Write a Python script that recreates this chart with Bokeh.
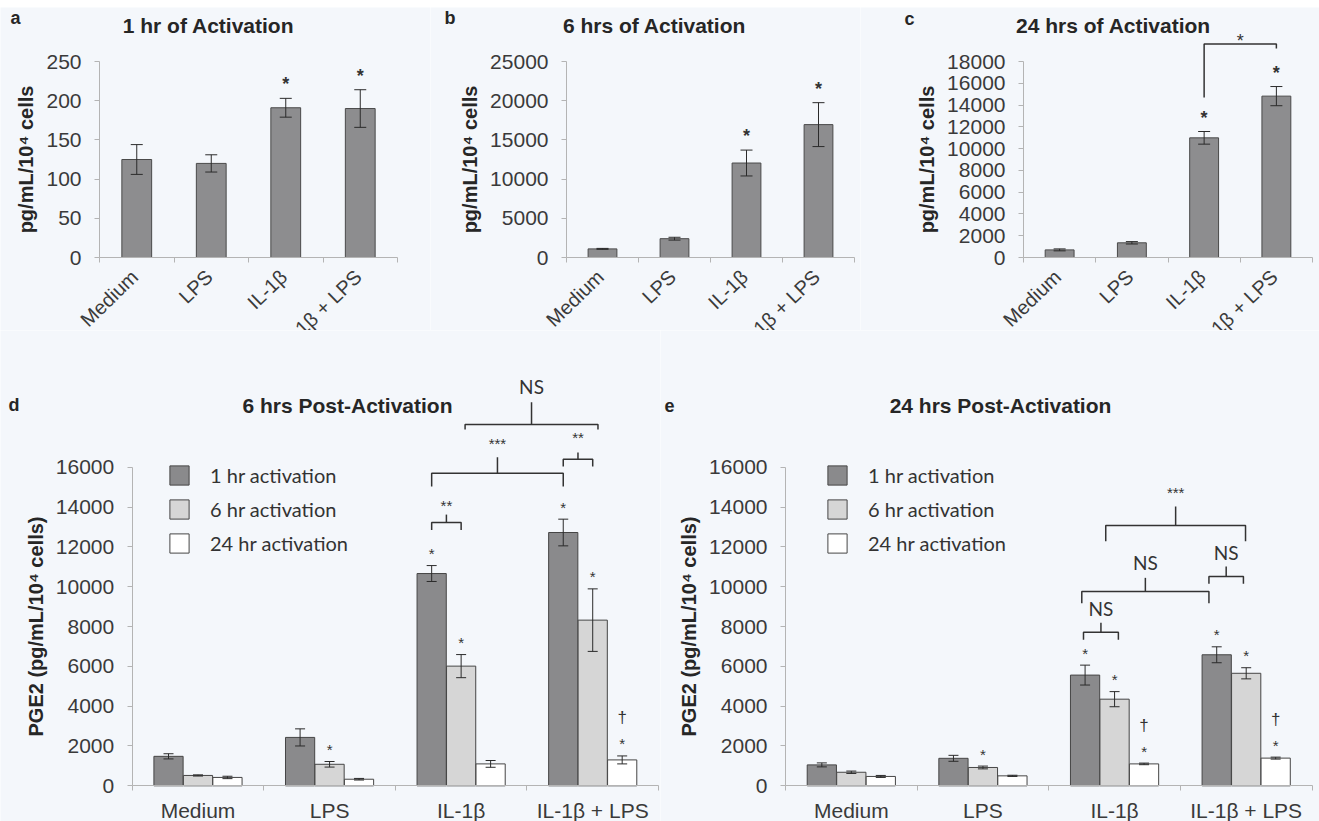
from math import pi

from bokeh.core.properties import value
from bokeh.embed import file_html
from bokeh.layouts import column, row
from bokeh.models import (ColumnDataSource, FixedTicker, Label, Legend, LegendItem,
                          Range1d, Spacer, TeeHead, Whisker)
from bokeh.plotting import figure
from bokeh.resources import INLINE

# ---------------------------------------------------------------- data
categories = ["Medium", "LPS", "IL-1β", "IL-1β + LPS"]

# panels a-c: PGE2 release during activation (pg/mL/10^4 cells)
act_1h_mean = [125, 120, 191, 190]
act_1h_err = [19, 11, 12, 24]
act_6h_mean = [1100, 2400, 12050, 16950]
act_6h_err = [60, 180, 1650, 2800]
act_24h_mean = [700, 1350, 10990, 14820]
act_24h_err = [90, 110, 580, 880]
act_sig = ["", "", "*", "*"]

# panels d-e: PGE2 after activation, by activation duration
series_names = ["1 hr activation", "6 hr activation", "24 hr activation"]
post6_mean = [[1480, 2430, 10660, 12720],
              [520, 1080, 6010, 8320],
              [420, 330, 1100, 1300]]
post6_err = [[130, 430, 400, 670],
             [30, 140, 580, 1570],
             [60, 40, 170, 200]]
post6_star = [["", "", "*", "*"],
              ["", "*", "*", "*"],
              ["", "", "", "*"]]
post6_dagger = [["", "", "", ""],
                ["", "", "", ""],
                ["", "", "", "†"]]

post24_mean = [[1050, 1380, 5560, 6580],
               [680, 920, 4350, 5650],
               [470, 500, 1100, 1390]]
post24_err = [[100, 150, 500, 400],
              [60, 70, 380, 280],
              [50, 30, 40, 50]]
post24_star = [["", "", "*", "*"],
               ["", "*", "*", "*"],
               ["", "", "*", "*"]]
post24_dagger = [["", "", "", ""],
                 ["", "", "", ""],
                 ["", "", "†", "†"]]

# significance brackets: (label, x0, x1, y, left leg end, right leg end, centre tick top, label y)
brackets_24h_act = [("*", 2.5, 3.5, 19600, 14690, 19190, None, 20270)]
brackets_post6 = [
    ("**", 2.276, 2.5, 13220, 12850, 12850, 13620, 14230),
    ("***", 2.276, 3.276, 15700, 15030, 15030, 16500, 17340),
    ("**", 3.276, 3.5, 16400, 16030, 16030, 16740, 17640),
    ("NS", 2.53, 3.54, 18140, 17890, 17890, 19260, 20050),
]
brackets_post24 = [
    ("NS", 2.264, 2.529, 7715, 7330, 7330, 8184, 8920),
    ("NS", 2.251, 3.217, 9757, 9171, 9171, 10443, 11200),
    ("NS", 3.217, 3.479, 10510, 10142, 10142, 11013, 11730),
    ("***", 2.433, 3.495, 13071, 12285, 12285, 14025, 14860),
]

# ---------------------------------------------------------------- style
BG = "#f4f7fb"
AXIS = "#b4b4b4"
TICK_TXT = "#3a3a3a"
INK = "#262626"
BAR_LINE = "#454545"
SERIES_FILL = ["#8a8a8c", "#d6d6d6", "#ffffff"]
SANS = "Liberation Sans"
CENTERS = [i + 0.5 for i in range(len(categories))]


def base_figure(width, height, frame_left, frame_right, ymax_val, y_zero, y_top, y_fig_top):
    """Figure whose plotting area fills the whole canvas; axes are pinned at zero.

    frame_left/right: canvas x of category 0 and 4;  y_zero/y_top: page y
    of 0 and of ymax_val;  y_fig_top: page y of this figure's top edge.
    """
    ppx = (frame_right - frame_left) / 4.0
    ppy = (y_zero - y_top) / float(ymax_val)
    x_range = Range1d(-frame_left / ppx, (width - frame_left) / ppx)
    y_range = Range1d(-(y_fig_top + height - y_zero) / ppy, (y_zero - y_fig_top) / ppy)
    p = figure(width=width, height=height, x_range=x_range, y_range=y_range,
               output_backend="svg", toolbar_location=None, min_border=0,
               min_border_left=0, min_border_right=0, min_border_top=0, min_border_bottom=0,
               background_fill_color=BG, border_fill_color=BG, outline_line_color=None)
    p.title.visible = False
    p.grid.visible = False
    p.xaxis.fixed_location = 0
    p.yaxis.fixed_location = 0
    return p


def style_axes(p, ymax, step, ylabel, ylabel_size, labelled_x):
    yax = p.yaxis[0]
    yax.ticker = FixedTicker(ticks=list(range(0, ymax + 1, step)))
    yax.bounds = (0, ymax)
    yax.axis_line_color = AXIS
    yax.major_tick_line_color = AXIS
    yax.major_tick_out = 5
    yax.major_tick_in = 0
    yax.minor_tick_line_color = None
    yax.major_label_text_font = SANS
    yax.major_label_text_font_size = "21px"
    yax.major_label_text_color = TICK_TXT
    yax.major_label_standoff = 13
    yax.axis_label = ylabel
    yax.axis_label_text_font = SANS
    yax.axis_label_text_font_style = "bold"
    yax.axis_label_text_font_size = ylabel_size
    yax.axis_label_text_color = INK
    yax.axis_label_standoff = 6

    xax = p.xaxis[0]
    xax.bounds = (0, 4)
    if labelled_x:
        xax.ticker = FixedTicker(ticks=CENTERS, minor_ticks=[0, 1, 2, 3, 4])
        xax.major_label_overrides = {c: n for c, n in zip(CENTERS, categories)}
    else:
        xax.ticker = FixedTicker(ticks=[], minor_ticks=[0, 1, 2, 3, 4])
    xax.axis_line_color = AXIS
    xax.major_tick_line_color = AXIS
    xax.major_tick_out = 0
    xax.major_tick_in = 0
    xax.minor_tick_line_color = AXIS
    xax.minor_tick_out = 5
    xax.minor_tick_in = 0
    xax.major_label_text_font = SANS
    xax.major_label_text_font_size = "21px"
    xax.major_label_text_color = TICK_TXT


def add_heading(p, letter, lx, ly, title, tx, ty, size):
    p.add_layout(Label(x=lx, y=ly, x_units="canvas", y_units="canvas", text=letter,
                       text_font=SANS, text_font_style="bold", text_font_size="18px",
                       text_color=INK, text_align="left", text_baseline="middle"))
    p.add_layout(Label(x=tx, y=ty, x_units="canvas", y_units="canvas", text=title,
                       text_font=SANS, text_font_style="bold", text_font_size=size,
                       text_color=INK, text_align="center", text_baseline="middle"))


def add_brackets(p, specs, font, size, label_dy):
    xs, ys, tx, ty, tt, cx0, cy0, cy1 = [], [], [], [], [], [], [], []
    for lab, x0, x1, y, l0, l1, top, ly in specs:
        xm = (x0 + x1) / 2
        xs.append([x0, x0, x1, x1])
        ys.append([l0, y, y, l1])
        if top is not None:
            cx0.append(xm)
            cy0.append(y)
            cy1.append(top)
        tx.append(xm)
        ty.append(ly)
        tt.append(lab)
    p.multi_line(xs=xs, ys=ys, line_color="#333333", line_width=1.5)
    if cx0:
        p.segment(x0=cx0, y0=cy0, x1=cx0, y1=cy1, line_color="#333333", line_width=1.5)
    p.text(x=tx, y=ty, text=tt, text_font=value(font), text_font_size=size,
           text_color="#333333", text_align="center", text_baseline="middle", y_offset=label_dy)


def whiskers(p, src, head):
    p.add_layout(Whisker(source=src, base="x", upper="upper", lower="lower",
                         line_color="#2b2b2b", line_width=1, level="annotation",
                         upper_head=TeeHead(size=head, line_color="#2b2b2b", line_width=1),
                         lower_head=TeeHead(size=head, line_color="#2b2b2b", line_width=1)))


# ---------------------------------------------------------------- top row
TOP_Y = 7
TOP_H = 323


def activation_panel(letter, title, means, errs, ymax, step, width, page_x, fl, fr,
                     heading, brackets=None):
    p = base_figure(width, TOP_H, fl - page_x, fr - page_x, ymax, 257, 61, TOP_Y)
    style_axes(p, ymax, step, "pg/mL/10⁴ cells", "20px", False)

    src = ColumnDataSource(dict(
        x=CENTERS, top=means,
        upper=[m + e for m, e in zip(means, errs)],
        lower=[m - e for m, e in zip(means, errs)]))
    p.vbar(x="x", top="top", bottom=0, width=0.4, source=src,
           fill_color="#8d8d8f", line_color="#4a4a4a", line_width=1)
    whiskers(p, src, 12)

    sx = [c for c, s in zip(CENTERS, act_sig) if s]
    sy = [m + e for m, e, s in zip(means, errs, act_sig) if s]
    st = [s for s in act_sig if s]
    p.text(x=sx, y=sy, text=st, text_font=value(SANS), text_font_size="18px",
           text_font_style="bold", text_color="#333333", text_align="center",
           text_baseline="middle", y_offset=-14)

    if brackets:
        add_brackets(p, brackets, SANS, "18px", 4)

    # slanted category names, running off the lower edge of the panel
    for c, name in zip(CENTERS, categories):
        p.add_layout(Label(x=c, y=266, x_units="data", y_units="canvas", x_offset=-2,
                           text=name, angle=44 * pi / 180, text_font=SANS,
                           text_font_size="20px", text_color=TICK_TXT,
                           text_align="right", text_baseline="middle"))
    add_heading(p, letter, heading[0], heading[1], title, heading[2], heading[3], "21px")
    return p


pa = activation_panel("a", "1 hr of Activation", act_1h_mean, act_1h_err, 250, 50,
                      430, 0, 99, 397, (10, 10, 208, 18))
pb = activation_panel("b", "6 hrs of Activation", act_6h_mean, act_6h_err, 25000, 5000,
                      430, 430, 566, 854, (14, 10, 224, 18))
pc = activation_panel("c", "24 hrs of Activation", act_24h_mean, act_24h_err, 18000, 2000,
                      459, 860, 1023, 1312, (44, 11, 253, 18), brackets_24h_act)

# ---------------------------------------------------------------- bottom row
BOT_Y = 330
BOT_H = 491
OFFS = [-0.224, 0.0, 0.224]


def post_panel(letter, title, means, errs, stars, daggers, brackets, width, page_x,
               fl, fr, heading, legend_x):
    p = base_figure(width, BOT_H, fl - page_x, fr - page_x, 16000, 785.3, 466.7, BOT_Y)
    style_axes(p, 16000, 2000, "PGE2 (pg/mL/10⁴ cells)", "20px", True)
    p.xaxis[0].major_label_standoff = 8

    renderers = []
    for k in range(3):
        xs = [c + OFFS[k] for c in CENTERS]
        up = [m + e for m, e in zip(means[k], errs[k])]
        src = ColumnDataSource(dict(
            x=xs, top=means[k], upper=up,
            lower=[m - e for m, e in zip(means[k], errs[k])]))
        r = p.vbar(x="x", top="top", bottom=0, width=0.222, source=src,
                   fill_color=SERIES_FILL[k], line_color=BAR_LINE, line_width=1)
        renderers.append(r)
        whiskers(p, src, 10)

        s_x = [x for x, s in zip(xs, stars[k]) if s]
        s_y = [u for u, s in zip(up, stars[k]) if s]
        s_t = [s for s in stars[k] if s]
        if s_t:
            p.text(x=s_x, y=s_y, text=s_t, text_font=value(SANS), text_font_size="15px",
                   text_color="#333333", text_align="center", text_baseline="middle",
                   y_offset=-12)
        d_x = [x for x, s in zip(xs, daggers[k]) if s]
        d_y = [u for u, s in zip(up, daggers[k]) if s]
        d_t = [s for s in daggers[k] if s]
        if d_t:
            p.text(x=d_x, y=d_y, text=d_t, text_font=value(SANS), text_font_size="17px",
                   text_color="#333333", text_align="center", text_baseline="middle",
                   y_offset=-38)

    nsb = [b for b in brackets if b[0] == "NS"]
    astb = [b for b in brackets if b[0] != "NS"]
    if nsb:
        add_brackets(p, nsb, "Lato", "19px", 0)
    if astb:
        add_brackets(p, astb, SANS, "15px", 3)

    legend = Legend(items=[LegendItem(label=n, renderers=[r])
                           for n, r in zip(series_names, renderers)],
                    location=(legend_x, 266), orientation="vertical",
                    glyph_width=24, glyph_height=24, label_height=24, spacing=10,
                    padding=0, margin=0, label_standoff=19,
                    background_fill_alpha=0, border_line_color=None,
                    label_text_font="Lato", label_text_font_size="20px",
                    label_text_color="#333333")
    p.add_layout(legend)
    add_heading(p, letter, heading[0], heading[1], title, heading[2], heading[3], "21px")
    return p


pd_ = post_panel("d", "6 hrs Post-Activation", post6_mean, post6_err, post6_star,
                 post6_dagger, brackets_post6, 660, 0, 131.7, 658, (8, 74.5, 347, 74.5), 167)
pe = post_panel("e", "24 hrs Post-Activation", post24_mean, post24_err, post24_star,
                post24_dagger, brackets_post24, 659, 660, 785, 1311.5, (4, 74.5, 340, 74.5), 165)

layout = column(Spacer(width=1319, height=TOP_Y), row(pa, pb, pc), row(pd_, pe))

with open("out.html", "w") as f:
    f.write(file_html(layout, INLINE))
